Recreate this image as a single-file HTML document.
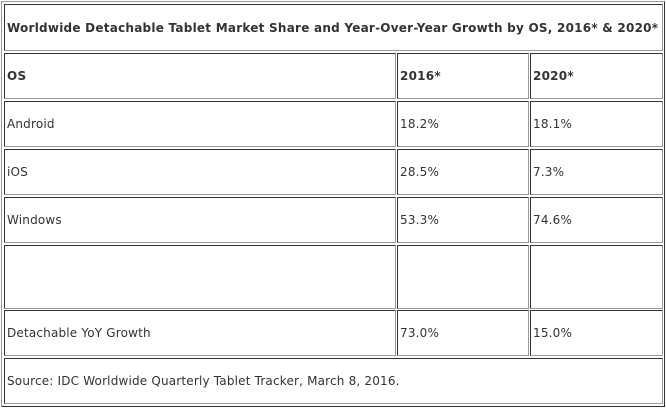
<!DOCTYPE html>
<html><head><meta charset="utf-8"><style>
body{margin:0;width:666px;height:410px;background:#fff;position:relative;overflow:hidden;font-family:"DejaVu Sans","Liberation Sans",sans-serif;font-size:12px;color:#333;letter-spacing:0.18px}
.o{position:absolute;left:1px;top:1px;width:662px;height:404px;border:1px solid;border-color:#999 #333 #333 #999}
.c{position:absolute;box-sizing:border-box;border:1px solid;border-color:#333 #999 #999 #333;display:flex;align-items:center;padding-left:2px;white-space:nowrap}
.b{font-weight:bold;letter-spacing:0.24px}
</style></head><body>
<div class="o"></div>
<div class="c b" style="left:4px;top:4px;width:659px;height:47px">Worldwide Detachable Tablet Market Share and Year-Over-Year Growth by OS, 2016* &amp; 2020*</div>
<div class="c b" style="left:4px;top:53px;width:392px;height:46px">OS</div>
<div class="c b" style="left:397px;top:53px;width:132px;height:46px">2016*</div>
<div class="c b" style="left:530px;top:53px;width:133px;height:46px">2020*</div>

<div class="c" style="left:4px;top:101px;width:392px;height:46px">Android</div>
<div class="c" style="left:397px;top:101px;width:132px;height:46px">18.2%</div>
<div class="c" style="left:530px;top:101px;width:133px;height:46px">18.1%</div>

<div class="c" style="left:4px;top:149px;width:392px;height:46px">iOS</div>
<div class="c" style="left:397px;top:149px;width:132px;height:46px">28.5%</div>
<div class="c" style="left:530px;top:149px;width:133px;height:46px">7.3%</div>

<div class="c" style="left:4px;top:197px;width:392px;height:46px">Windows</div>
<div class="c" style="left:397px;top:197px;width:132px;height:46px">53.3%</div>
<div class="c" style="left:530px;top:197px;width:133px;height:46px">74.6%</div>

<div class="c" style="left:4px;top:245px;width:392px;height:64px"></div>
<div class="c" style="left:397px;top:245px;width:132px;height:64px"></div>
<div class="c" style="left:530px;top:245px;width:133px;height:64px"></div>

<div class="c" style="left:4px;top:310px;width:392px;height:46px">Detachable YoY Growth</div>
<div class="c" style="left:397px;top:310px;width:132px;height:46px">73.0%</div>
<div class="c" style="left:530px;top:310px;width:133px;height:46px">15.0%</div>

<div class="c" style="left:4px;top:358px;width:659px;height:46px">Source: IDC Worldwide Quarterly Tablet Tracker, March 8, 2016.</div>
</body></html>
